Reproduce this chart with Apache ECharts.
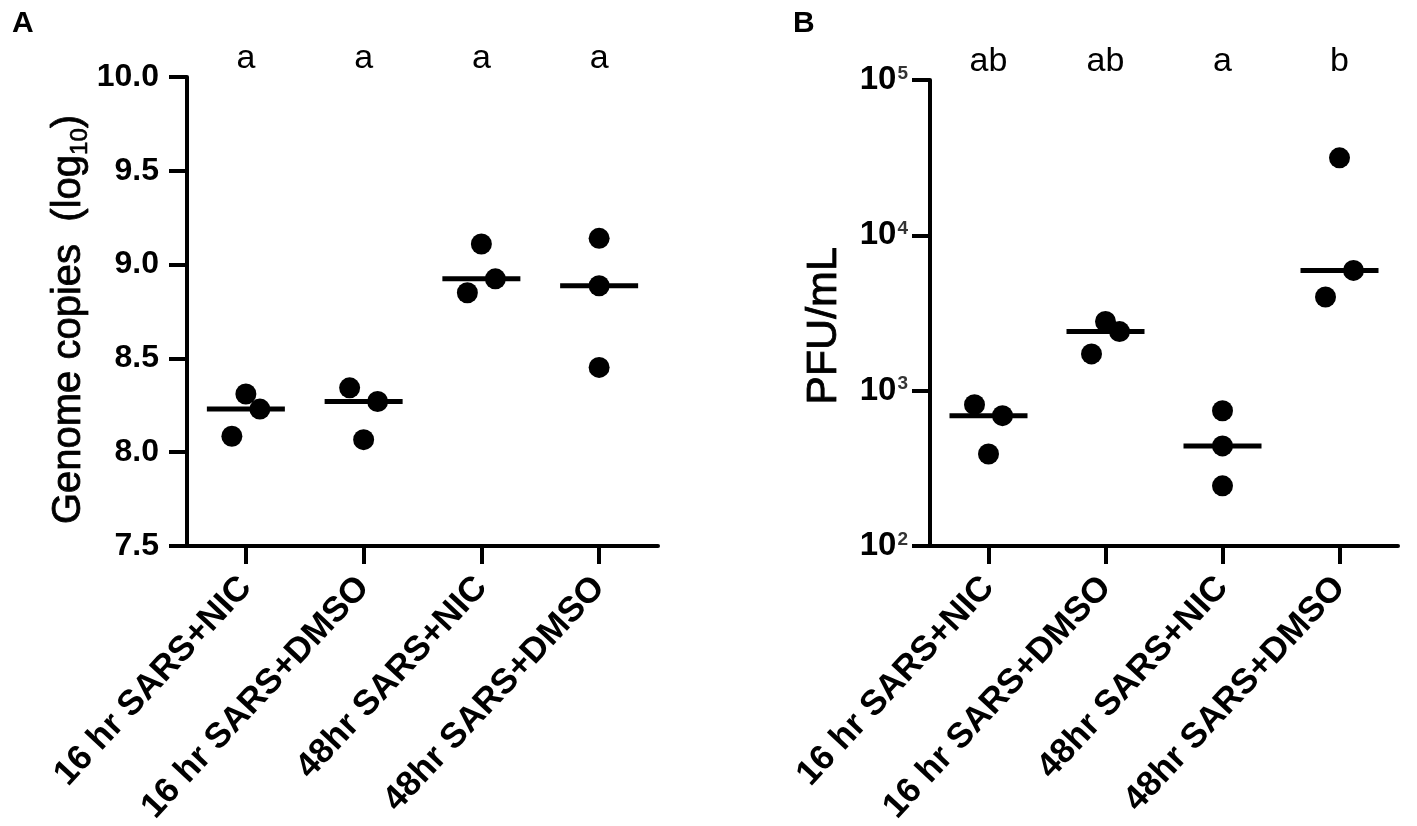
<!DOCTYPE html>
<html>
<head>
<meta charset="utf-8">
<script src="https://cdn.jsdelivr.net/npm/echarts@6/dist/echarts.min.js"></script>
<style>
html, body { margin: 0; padding: 0; background: #fff; }
#chart { width: 1417px; height: 826px; }
</style>
</head>
<body>
<div id="chart"></div>
<script>
// groups on the x axis (same for both panels)
var groups = ['16 hr SARS+NIC', '16 hr SARS+DMSO', '48hr SARS+NIC', '48hr SARS+DMSO'];

// significance letters above each group
var lettersA = ['a', 'a', 'a', 'a'];
var lettersB = ['ab', 'ab', 'a', 'b'];

// panel A - genome copies (log10)
var genome16Nic = [8.31, 8.23, 8.085];
var genome16Dmso = [8.343, 8.27, 8.067];
var genome48Nic = [9.11, 8.924, 8.85];
var genome48Dmso = [9.14, 8.887, 8.452];

// panel B - PFU/mL
var pfu16Nic = [813, 690, 391];
var pfu16Dmso = [2786, 2400, 1725];
var pfu48Nic = [743, 441, 244];
var pfu48Dmso = [31550, 5945, 4010];

// axis ranges
var genomeMin = 7.5, genomeMax = 10, genomeStep = 0.5;
var pfuMin = 100, pfuMax = 100000;

// horizontal spread of the dots inside a group (pixels)
var jitterA = [[0, 14, -14], [-14, 14, 0], [0, 14, -14], [0, 0, 0]];
var jitterB = [[-14, 14, 0], [0, 14, -14], [0, 0, 0], [0, 14, -14]];

var FONT = "'Liberation Sans', Arial, sans-serif";

function dots(sets, jitter) {
    var out = [];
    for (var i = 0; i < sets.length; i++) {
        for (var j = 0; j < sets[i].length; j++) {
            out.push({ value: [i, sets[i][j]], symbolOffset: [jitter[i][j], 0] });
        }
    }
    return out;
}

function medians(sets) {
    var out = [];
    for (var i = 0; i < sets.length; i++) {
        var s = sets[i].slice().sort(function (a, b) { return a - b; });
        out.push([i, s[Math.floor(s.length / 2)]]);
    }
    return out;
}

var setsA = [genome16Nic, genome16Dmso, genome48Nic, genome48Dmso];
var setsB = [pfu16Nic, pfu16Dmso, pfu48Nic, pfu48Dmso];

var axisLine = { show: true, lineStyle: { color: '#000', width: 4 } };
var axisTick = { show: true, length: 18, lineStyle: { color: '#000', width: 4 } };

function bottomAxis(grid) {
    return {
        type: 'category', gridIndex: grid, data: groups, position: 'bottom',
        axisLine: axisLine,
        axisTick: { show: true, alignWithLabel: true, length: 18, lineStyle: { color: '#000', width: 4 } },
        axisLabel: { interval: 0, rotate: 47, margin: 36, color: '#000', fontFamily: FONT, fontWeight: 'bold', fontSize: 35 },
        splitLine: { show: false }
    };
}

function topAxis(grid, letters) {
    return {
        type: 'category', gridIndex: grid, data: letters, position: 'top',
        axisLine: { show: false }, axisTick: { show: false },
        axisLabel: { interval: 0, margin: 1, color: '#000', fontFamily: FONT, fontSize: 34 },
        splitLine: { show: false }
    };
}

var chart = echarts.init(document.getElementById('chart'));

var option = {
    animation: false,
    backgroundColor: '#fff',
    title: [
        { text: 'A', left: 7, top: 4, textStyle: { fontFamily: FONT, fontWeight: 'bold', fontSize: 30, color: '#000' } },
        { text: 'B', left: 788, top: 4, textStyle: { fontFamily: FONT, fontWeight: 'bold', fontSize: 30, color: '#000' } }
    ],
    grid: [
        { left: 187, top: 77, width: 471, height: 469, outerBoundsMode: 'none' },
        { left: 930, top: 80, width: 468, height: 466, outerBoundsMode: 'none' }
    ],
    xAxis: [
        bottomAxis(0),
        topAxis(0, lettersA),
        bottomAxis(1),
        topAxis(1, lettersB)
    ],
    yAxis: [
        {
            type: 'value', gridIndex: 0, min: genomeMin, max: genomeMax, interval: genomeStep,
            axisLine: axisLine, axisTick: axisTick, splitLine: { show: false },
            axisLabel: {
                margin: 28, color: '#000', fontFamily: FONT, fontWeight: 'bold', fontSize: 32,
                formatter: function (v) { return v.toFixed(1); }
            },
            name: '{t|Genome copies  (log}{s|10}{t|)}',
            nameLocation: 'middle', nameRotate: 90, nameGap: 95,
            nameTextStyle: {
                padding: [0, 16, 0, 0],
                rich: {
                    t: { fontFamily: FONT, fontSize: 40, color: '#000', lineHeight: 46, textBorderColor: '#000', textBorderWidth: 0.8 },
                    s: { fontFamily: FONT, fontSize: 24, color: '#000', lineHeight: 46, verticalAlign: 'bottom', textBorderColor: '#000', textBorderWidth: 0.6 }
                }
            }
        },
        {
            type: 'log', gridIndex: 1, logBase: 10, min: pfuMin, max: pfuMax,
            axisLine: axisLine, axisTick: axisTick, splitLine: { show: false },
            axisLabel: {
                margin: 22,
                formatter: function (v) { return '{b|10}{s|' + Math.round(Math.log10(v)) + '}'; },
                rich: {
                    b: { fontFamily: FONT, fontWeight: 'bold', fontSize: 33, color: '#000', lineHeight: 36 },
                    s: { fontFamily: FONT, fontWeight: 'bold', fontSize: 19, color: '#333', lineHeight: 36, verticalAlign: 'top', padding: [2, 0, 0, 1] }
                }
            },
            name: 'PFU/mL',
            nameLocation: 'middle', nameRotate: 90, nameGap: 84,
            nameTextStyle: { fontFamily: FONT, fontSize: 43, color: '#000', textBorderColor: '#000', textBorderWidth: 0.8, padding: [0, 26, 0, 0] }
        }
    ],
    series: [
        {
            type: 'scatter', xAxisIndex: 0, yAxisIndex: 0, symbol: 'circle', symbolSize: 21,
            itemStyle: { color: '#000', opacity: 1 }, data: dots(setsA, jitterA)
        },
        {
            type: 'scatter', xAxisIndex: 0, yAxisIndex: 0, symbol: 'rect', symbolSize: [78, 5],
            itemStyle: { color: '#000', opacity: 1 }, data: medians(setsA)
        },
        {
            type: 'scatter', xAxisIndex: 2, yAxisIndex: 1, symbol: 'circle', symbolSize: 21,
            itemStyle: { color: '#000', opacity: 1 }, data: dots(setsB, jitterB)
        },
        {
            type: 'scatter', xAxisIndex: 2, yAxisIndex: 1, symbol: 'rect', symbolSize: [78, 5],
            itemStyle: { color: '#000', opacity: 1 }, data: medians(setsB)
        }
    ]
};

chart.setOption(option);
</script>
</body>
</html>
